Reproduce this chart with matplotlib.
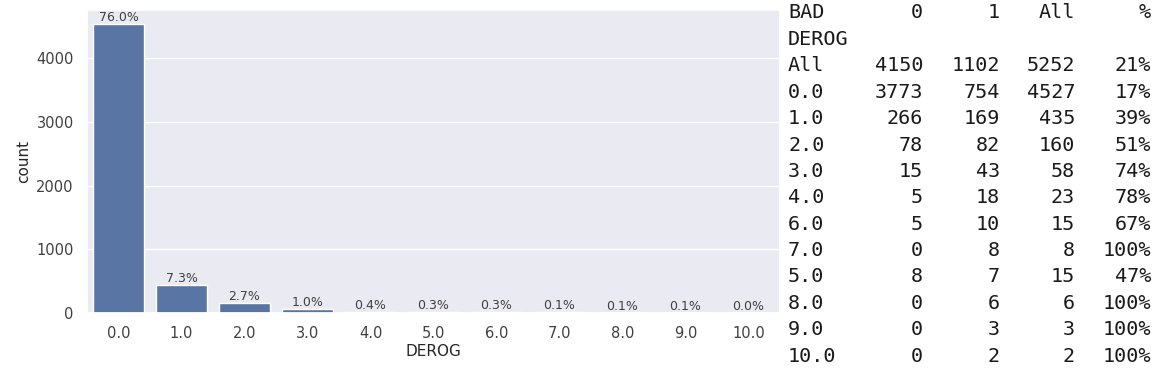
import matplotlib
matplotlib.use("Agg")
import matplotlib.pyplot as plt
import seaborn as sns

# DEROG value counts (bar chart)
derog = ["0.0", "1.0", "2.0", "3.0", "4.0", "5.0", "6.0", "7.0", "8.0", "9.0", "10.0"]
counts = [4527, 435, 160, 58, 23, 15, 15, 8, 6, 3, 2]
pct_labels = ["76.0%", "7.3%", "2.7%", "1.0%", "0.4%", "0.3%", "0.3%", "0.1%", "0.1%", "0.1%", "0.0%"]

# crosstab DEROG x BAD
tab_header = ["BAD", "0", "1", "All", "%"]
tab_rows = ["All", "0.0", "1.0", "2.0", "3.0", "4.0", "6.0", "7.0", "5.0", "8.0", "9.0", "10.0"]
tab_bad0 = [4150, 3773, 266, 78, 15, 5, 5, 0, 8, 0, 0, 0]
tab_bad1 = [1102, 754, 169, 82, 43, 18, 10, 8, 7, 6, 3, 2]
tab_all = [5252, 4527, 435, 160, 58, 23, 15, 8, 15, 6, 3, 2]
tab_pct = ["21%", "17%", "39%", "51%", "74%", "78%", "67%", "100%", "47%", "100%", "100%", "100%"]

sns.set_theme(style="darkgrid")

fig = plt.figure(figsize=(11.65, 3.75), dpi=100)
W, H = 1165, 375
ax = fig.add_axes([87 / W, 1 - 313 / H, (780 - 87) / W, (313 - 10) / H])

x = list(range(len(derog)))
bars = ax.bar(x, counts, width=0.8, color="#5975A4", edgecolor="white", linewidth=1)
ax.set_xlim(-0.5, len(derog) - 0.5)
ax.xaxis.grid(False)
ax.set_xticks(x)
ax.set_xticklabels(derog)
ax.tick_params(labelsize=10.5, colors="0.25")
ax.set_xlabel("DEROG", fontsize=11, color="0.15", labelpad=2)
ax.set_ylabel("count", fontsize=11, color="0.15")

for b, lab in zip(bars, pct_labels):
    ax.text(b.get_x() + b.get_width() / 2, b.get_height(), lab,
            ha="center", va="bottom", fontsize=9, color="0.25")

# text table on the right
mono = dict(family="DejaVu Sans Mono", fontsize=14.5, color="#1a1a1a")
left = 788
col_right = [923, 1000, 1075, 1151]
y0, dy = 13, 26.4


def fy(py):
    return 1 - py / H


fig.text(left / W, fy(y0), tab_header[0], ha="left", va="center", **mono)
for cx, h in zip(col_right, tab_header[1:]):
    fig.text(cx / W, fy(y0), h, ha="right", va="center", **mono)
fig.text(left / W, fy(y0 + dy), "DEROG", ha="left", va="center", **mono)

for i, name in enumerate(tab_rows):
    yy = fy(y0 + dy * (i + 2))
    fig.text(left / W, yy, name, ha="left", va="center", **mono)
    vals = [str(tab_bad0[i]), str(tab_bad1[i]), str(tab_all[i]), tab_pct[i]]
    for cx, v in zip(col_right, vals):
        fig.text(cx / W, yy, v, ha="right", va="center", **mono)

fig.savefig("out.png", dpi=100)
